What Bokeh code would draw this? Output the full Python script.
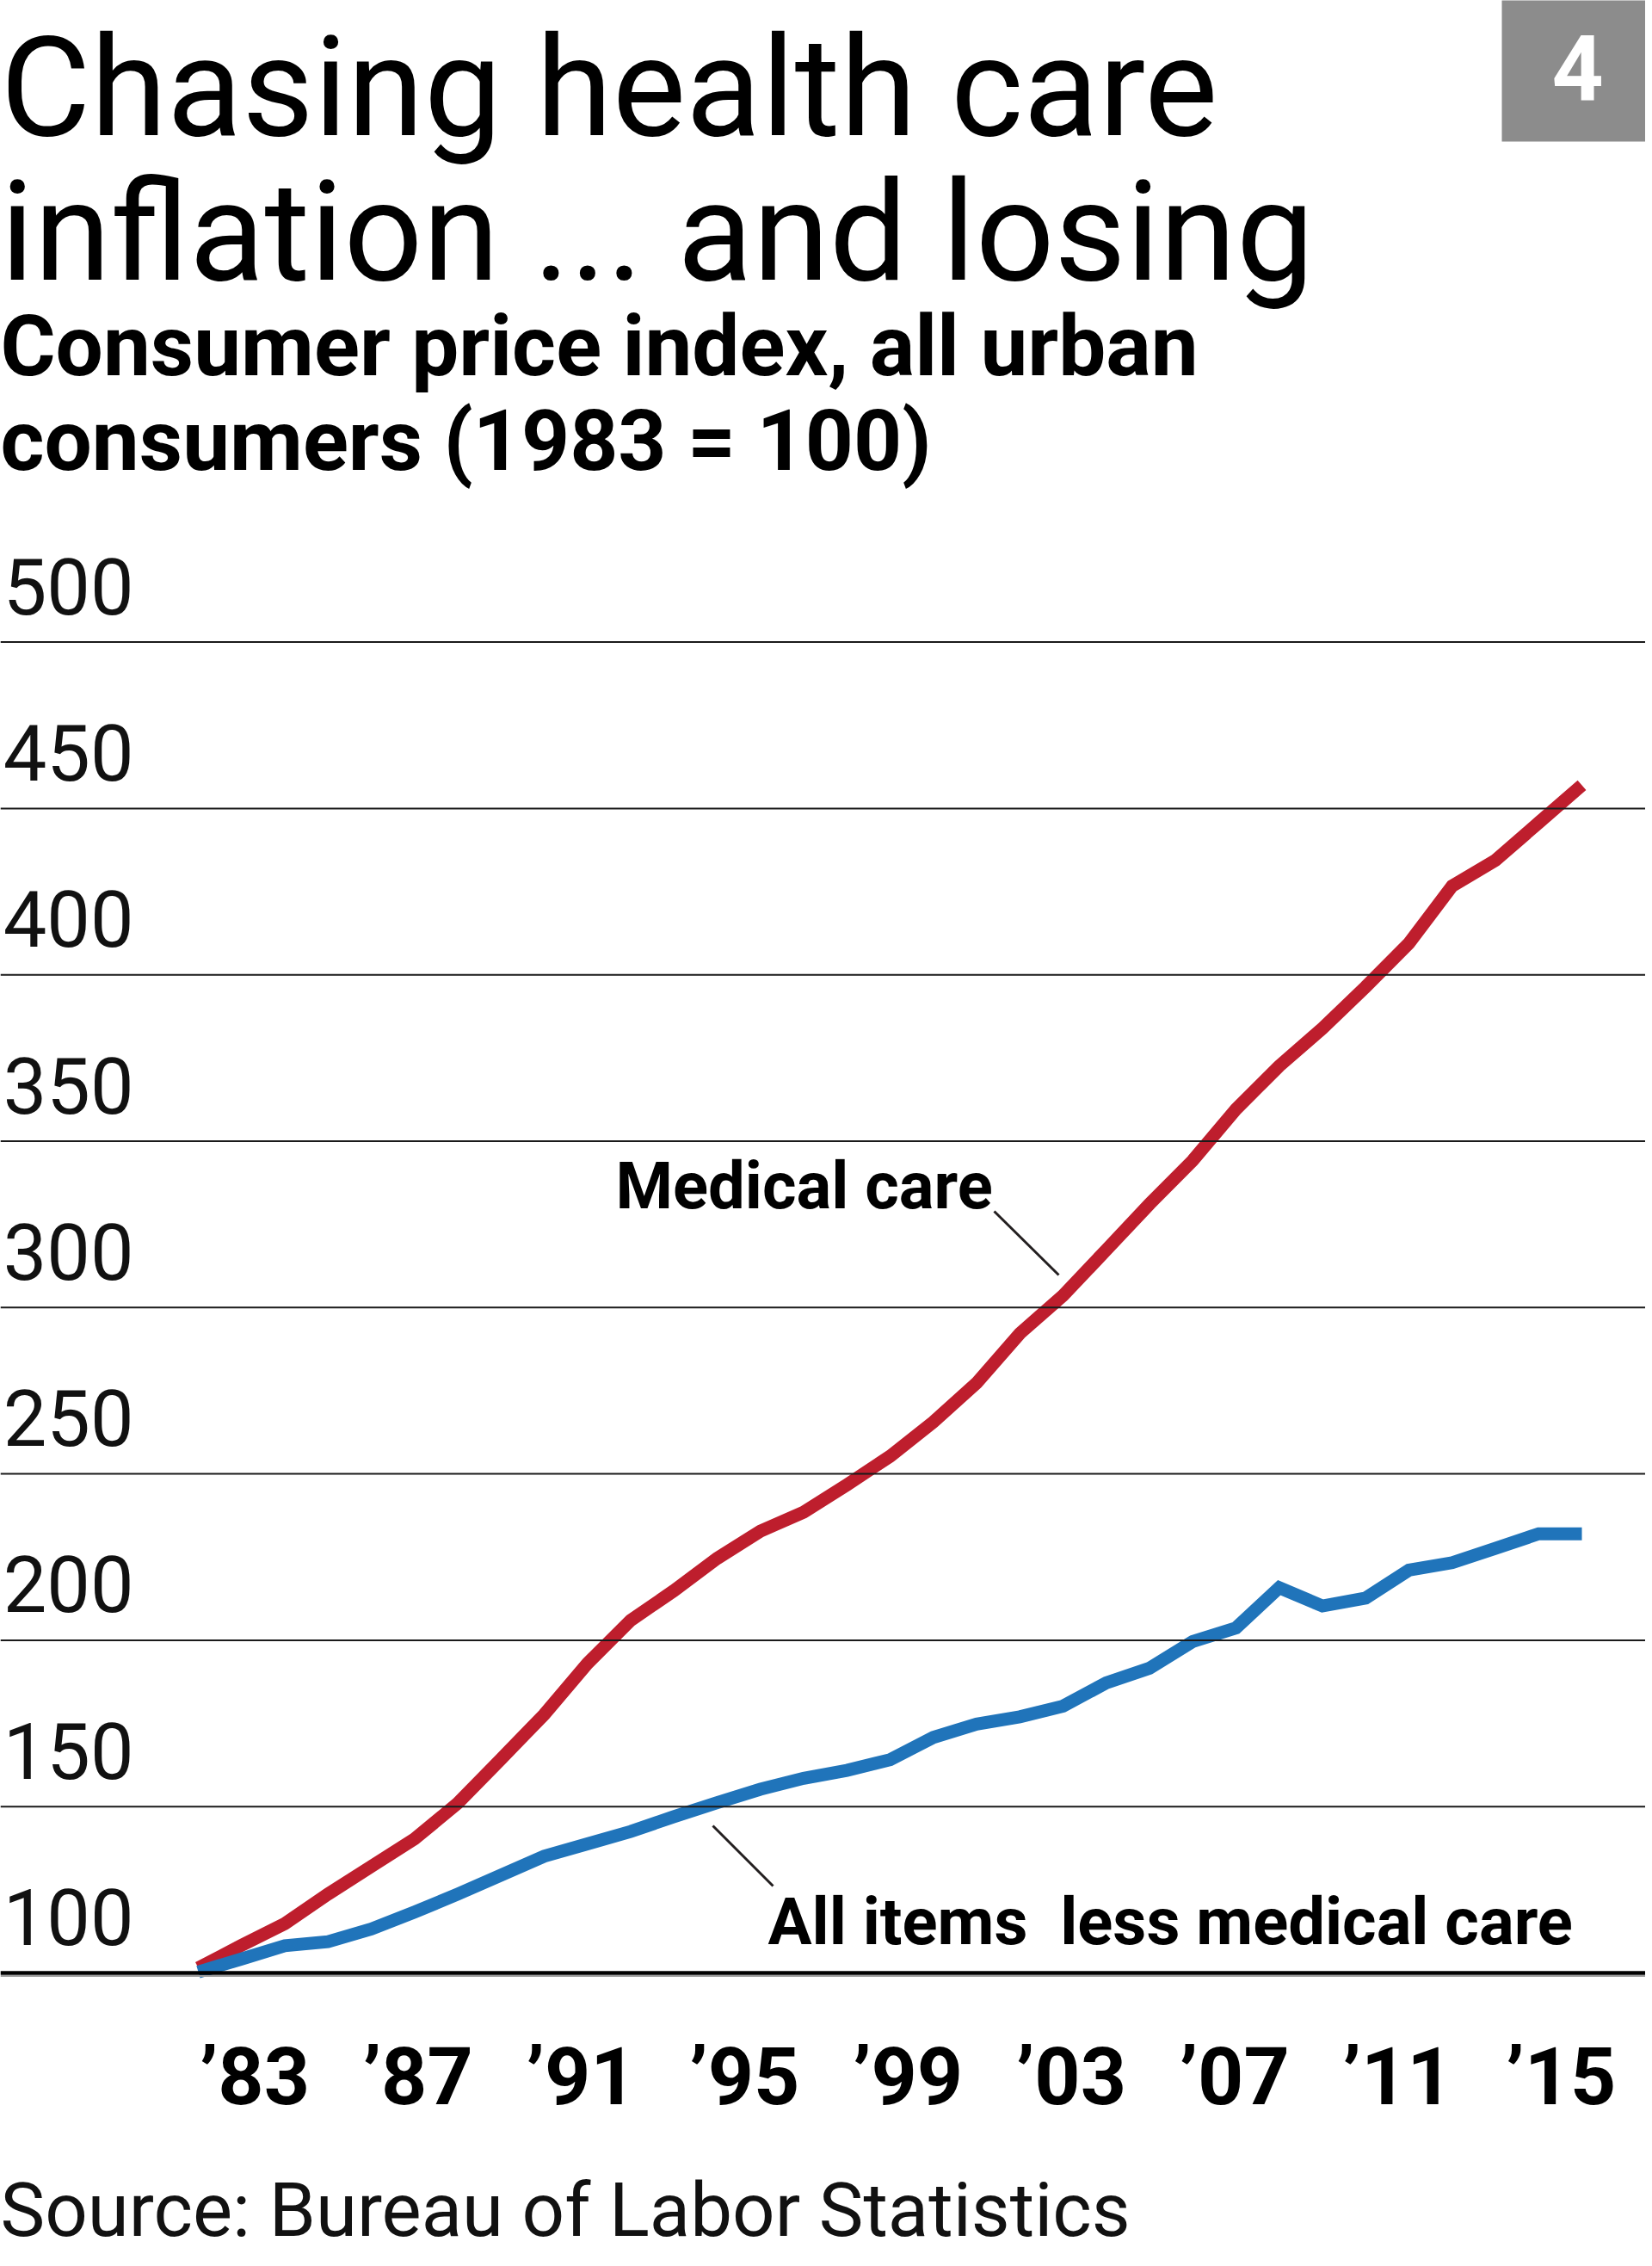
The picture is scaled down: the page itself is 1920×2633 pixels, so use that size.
from bokeh.plotting import figure
from bokeh.models import Range1d, Span
from bokeh.core.properties import value
from bokeh.embed import file_html
from bokeh.resources import INLINE

# ---------------- data ----------------
years = list(range(1983, 2016))
medical_care = [101.5, 108.3, 114.8, 123.7, 132.0, 140.3, 151.0, 164.3, 177.7, 193.0,
                206.0, 214.9, 224.6, 232.8, 238.5, 246.7, 255.3, 265.6, 277.3, 292.2,
                303.6, 317.3, 331.1, 344.2, 359.6, 372.6, 383.9, 396.4, 409.5, 426.7,
                434.4, 445.7, 457.0]
all_items_less_medical = [100.3, 104.2, 108.2, 109.4, 113.2, 118.3, 123.7, 129.4, 135.1, 138.8,
                          142.5, 147.0, 151.2, 155.2, 158.5, 160.9, 164.1, 170.8, 174.8, 177.0,
                          180.2, 187.2, 191.6, 199.6, 203.7, 215.8, 210.3, 212.7, 221.1, 223.3,
                          227.6, 232.0, 232.0]
y_ticks = [100, 150, 200, 250, 300, 350, 400, 450, 500]
y_tick_labels = [str(v) for v in y_ticks]
x_ticks = [1983, 1987, 1991, 1995, 1999, 2003, 2007, 2011, 2015]
x_tick_labels = ["\u2019" + str(y)[2:] for y in x_ticks]

title_lines = ["Chasing health care", "inflation ... and losing"]
subtitle_lines = ["Consumer price index, all urban", "consumers (1983 = 100)"]
source_text = "Source: Bureau of Labor Statistics"
badge_text = "4"
label_medical = "Medical care"
label_other = "All items \u00a0less medical care"

# ---------------- layout (pixels) ----------------
W, H = 1912, 2625
X0_PX, PX_PER_YEAR = 230.0, 50.25      # 1983 position, px per year
Y100_PX, PX_PER_UNIT = 2292.0, 3.866   # baseline (100) position, px per index point

def fx(px):
    return 1983 + (px - X0_PX) / PX_PER_YEAR

def fy(py):
    return 100 + (Y100_PX - py) / PX_PER_UNIT

RED = "#be1e2d"
BLUE = "#2074ba"
FONT = value("Roboto")

p = figure(width=W, height=H,
           x_range=Range1d(fx(0), fx(W)), y_range=Range1d(fy(H), fy(0)),
           x_axis_type=None, y_axis_type=None,
           toolbar_location=None, output_backend="svg",
           min_border=0, outline_line_color=None,
           background_fill_color="white", border_fill_color="white")

# label positions for the year ticks (evenly spaced row under the chart)
LBL0_PX, LBL_PX_PER_YEAR = 295.5, 47.45
p.extra_x_ranges = {"labels": Range1d(1983 - LBL0_PX / LBL_PX_PER_YEAR,
                                      1983 + (W - LBL0_PX) / LBL_PX_PER_YEAR)}

# grid lines
for v in y_ticks:
    if v == 100:
        p.add_layout(Span(location=v - 3.4 / PX_PER_UNIT, dimension="width",
                          line_color="#9a9a9a", line_width=2))
        p.add_layout(Span(location=v, dimension="width", line_color="black", line_width=4.5))
    else:
        p.add_layout(Span(location=v, dimension="width", line_color="#1a1a1a", line_width=2))

# y tick labels, above the grid lines
p.text(x=[fx(155)] * len(y_ticks), y=[v + 65 / PX_PER_UNIT for v in y_ticks], text=y_tick_labels,
       text_align="right", text_baseline="alphabetic", text_font=FONT,
       text_font_size="90px", text_color="#111111")

# series
p.line(years, medical_care, line_color=RED, line_width=15, line_join="miter")
p.line(years, all_items_less_medical, line_color=BLUE, line_width=15, line_join="miter")

# x tick labels
p.text(x=x_ticks, y=[fy(2413)] * len(x_ticks), text=x_tick_labels, x_range_name="labels",
       text_align="center", text_baseline="alphabetic", text_font=FONT, text_font_style="bold",
       text_font_size="93px", text_color="black")

# annotations
p.text(x=[fx(715)], y=[fy(1377)], text=[label_medical], text_align="left",
       text_baseline="alphabetic", text_font=FONT, text_font_style="bold",
       text_font_size="76px", text_color="black")
p.segment(x0=[fx(1155)], y0=[fy(1407)], x1=[fx(1230)], y1=[fy(1481)],
          line_color="#231f20", line_width=3)
p.text(x=[fx(892)], y=[fy(2232)], text=[label_other], text_align="left",
       text_baseline="alphabetic", text_font=FONT, text_font_style="bold",
       text_font_size="76px", text_color="black")
p.segment(x0=[fx(828)], y0=[fy(2121)], x1=[fx(898)], y1=[fy(2191)],
          line_color="#231f20", line_width=3)

# title / subtitle / source
p.text(x=[fx(0)] * 2, y=[fy(101), fy(269)], text=title_lines, text_align="left",
       text_baseline="alphabetic", text_font=FONT, text_font_size="161px", text_color="black")
p.text(x=[fx(0)] * 2, y=[fy(402), fy(512)], text=subtitle_lines, text_align="left",
       text_baseline="alphabetic", text_font=FONT, text_font_style="bold",
       text_font_size="98px", text_color="black")
p.text(x=[fx(0)], y=[fy(2567)], text=[source_text], text_align="left",
       text_baseline="alphabetic", text_font=FONT, text_font_size="87px", text_color="#111111")

# number badge
p.quad(left=[fx(1745)], right=[fx(W + 10)], top=[fy(-10)], bottom=[fy(164)],
       fill_color="#8c8c8c", line_color=None)
p.text(x=[fx(1833)], y=[fy(77)], text=[badge_text], text_align="center",
       text_baseline="alphabetic", text_font=FONT, text_font_style="bold",
       text_font_size="105px", text_color="white")

open("out.html", "w").write(file_html(p, INLINE))
